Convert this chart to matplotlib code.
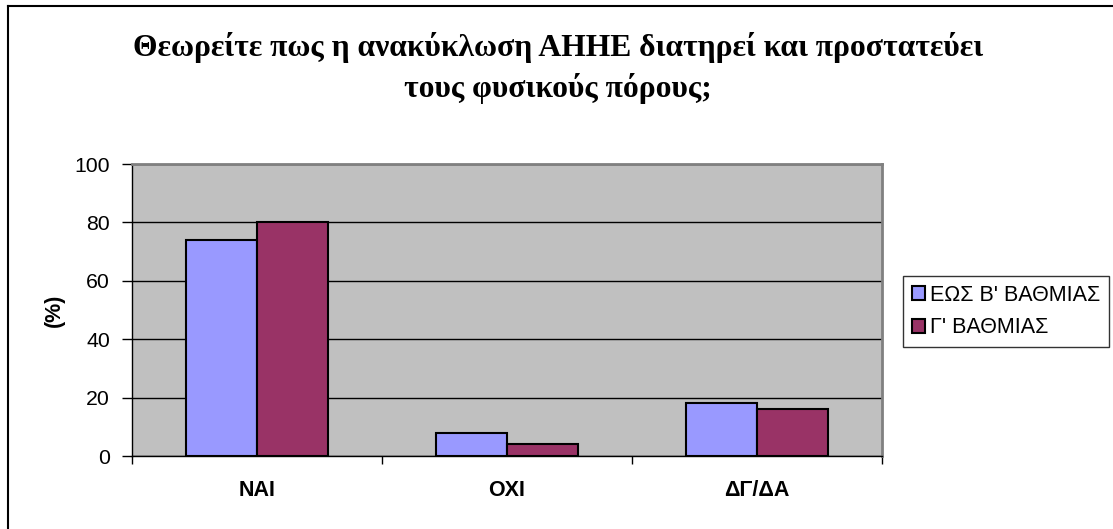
import matplotlib
matplotlib.use("Agg")
import matplotlib.pyplot as plt
import numpy as np
from matplotlib.lines import Line2D

categories = ["ΝΑΙ", "ΟΧΙ", "ΔΓ/ΔΑ"]
series_names = ["ΕΩΣ Β' ΒΑΘΜΙΑΣ", "Γ' ΒΑΘΜΙΑΣ"]
series1 = [74, 8, 18]
series2 = [80, 4, 16]
yticks = [0, 20, 40, 60, 80, 100]
title = "Θεωρείτε πως η ανακύκλωση ΑΗΗΕ διατηρεί και προστατεύει\nτους φυσικούς πόρους;"

W, H = 1113, 529
fig = plt.figure(figsize=(W/100, H/100), dpi=100)
fig.patch.set_facecolor("white")

# outer chart border (left & top visible)
fig.add_artist(Line2D([8/W, 8/W], [0, 1 - 6/H], color="black", lw=1.5, transform=fig.transFigure))
fig.add_artist(Line2D([8/W, 1], [1 - 6/H, 1 - 6/H], color="black", lw=1.5, transform=fig.transFigure))

left, right, top, bottom = 132, 882, 164, 456
ax = fig.add_axes([left/W, 1 - bottom/H, (right-left)/W, (bottom-top)/H])
ax.set_facecolor("#C0C0C0")

x = np.arange(len(categories))
bw = 1/3.5
ax.bar(x - bw/2, series1, width=bw, color="#9999FF", edgecolor="black", linewidth=1.5, label=series_names[0], zorder=3)
ax.bar(x + bw/2, series2, width=bw, color="#993366", edgecolor="black", linewidth=1.5, label=series_names[1], zorder=3)

ax.set_xlim(-0.5, len(categories) - 0.5)
ax.set_ylim(0, 100)
ax.set_yticks(yticks)
ax.set_yticklabels([str(v) for v in yticks], fontfamily="Liberation Sans", fontsize=15.3)
ax.yaxis.grid(True, color="black", linewidth=1, zorder=1)
ax.set_axisbelow(True)

ax.set_xticks(x)
ax.set_xticklabels(categories, fontfamily="Liberation Sans", fontsize=15.5, fontweight="bold")
ax.tick_params(axis="x", length=0, pad=17)
ax.set_xticks(np.arange(-0.5, len(categories)), minor=True)
ax.tick_params(axis="x", which="minor", length=6, direction="out", width=1)
ax.tick_params(axis="y", length=7, direction="out", width=1, pad=9)

for s in ["top", "right"]:
    ax.spines[s].set_color("#808080")
    ax.spines[s].set_linewidth(2)
for s in ["left", "bottom"]:
    ax.spines[s].set_color("black")
    ax.spines[s].set_linewidth(1)

ax.set_ylabel("(%)", fontfamily="Liberation Sans", fontsize=15.5, fontweight="bold", labelpad=7)

fig.text(0.501, 1 - 68/H, title, ha="center", va="center", fontfamily="Liberation Serif",
         fontsize=22.8, fontweight="bold", linespacing=1.45)

leg = ax.legend(loc="upper left", bbox_to_anchor=((903 - left)/(right-left), 1 - (276-top)/(bottom-top)),
                bbox_transform=ax.transAxes, borderaxespad=0, frameon=True, fancybox=False,
                prop={"family": "Liberation Sans", "size": 15.5}, handlelength=0.6, handleheight=0.6,
                handletextpad=0.25, borderpad=0.4, labelspacing=0.55)
leg.get_frame().set_edgecolor("black")
leg.get_frame().set_linewidth(1)

fig.savefig("out.png", dpi=100, facecolor="white")
